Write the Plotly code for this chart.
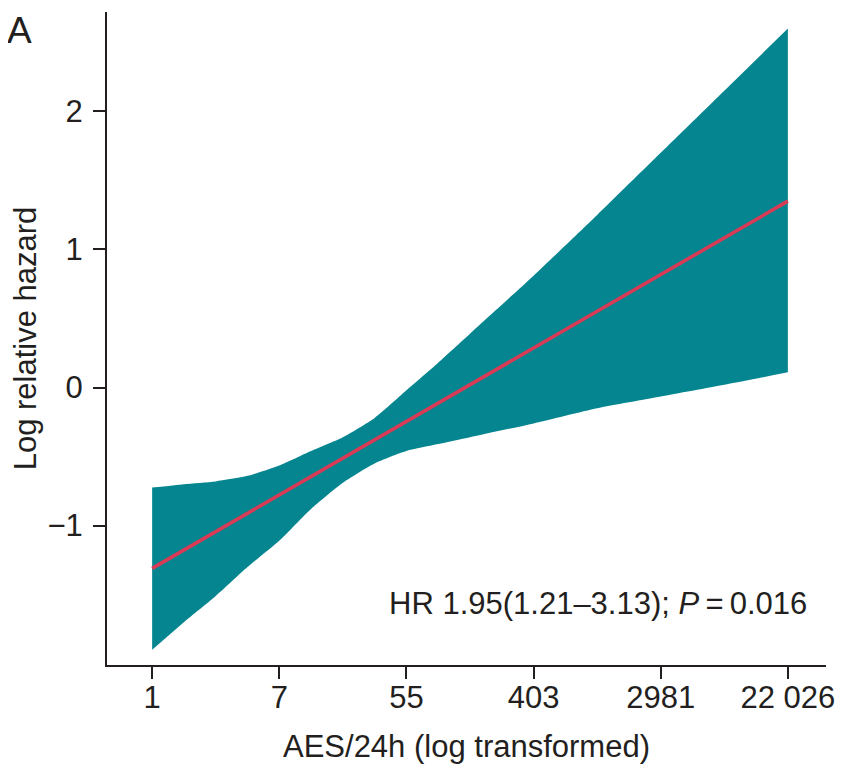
import plotly.graph_objects as go

# x = ln(AES/24h)
band_x = [0, 0.5, 1, 1.5, 2, 2.5, 3, 3.5, 4, 4.5, 5, 6, 7, 8, 9, 10]
band_upper = [-0.725, -0.70, -0.68, -0.64, -0.565, -0.46, -0.36, -0.22, -0.02, 0.18, 0.39, 0.81, 1.25, 1.70, 2.15, 2.60]
band_lower = [-1.90, -1.70, -1.51, -1.30, -1.11, -0.88, -0.69, -0.55, -0.46, -0.41, -0.36, -0.26, -0.15, -0.065, 0.02, 0.11]
fit_x = [0, 10]
fit_y = [-1.31, 1.35]

x_tickvals = [0, 2, 4, 6, 8, 10]
x_ticktext = ["1", "7", "55", "403", "2981", "22 026"]
y_tickvals = [-1, 0, 1, 2]

TEAL = "#04858F"
RED = "#D93A55"
AXIS = "#231F20"
FONT = "Liberation Sans, Arial, Helvetica, sans-serif"
FS = 31

fig = go.Figure()
fig.add_trace(go.Scatter(x=band_x, y=band_lower, mode="lines",
                         line=dict(color=TEAL, width=0, shape="spline", smoothing=0.6),
                         showlegend=False, hoverinfo="skip"))
fig.add_trace(go.Scatter(x=band_x, y=band_upper, mode="lines", fill="tonexty",
                         fillcolor=TEAL,
                         line=dict(color=TEAL, width=0, shape="spline", smoothing=0.6),
                         showlegend=False, hoverinfo="skip"))
fig.add_trace(go.Scatter(x=fit_x, y=fit_y, mode="lines",
                         line=dict(color=RED, width=3.5),
                         showlegend=False))

fig.add_annotation(x=10.34, y=-1.565, xref="x", yref="y", xanchor="right", yanchor="middle",
                   text="HR 1.95(1.21\u20133.13); <i>P</i>\u2009=\u20090.016",
                   showarrow=False, font=dict(size=FS, color=AXIS, family=FONT))
fig.add_annotation(x=-0.14, y=1.005, xref="paper", yref="paper", xanchor="left", yanchor="top",
                   borderpad=0,
                   text="A", showarrow=False, font=dict(size=37, color=AXIS, family=FONT))

# page body has an 8px margin: plot area at page x 107..826, y 12..665
fig.update_layout(
    width=835, height=756,
    margin=dict(l=99, r=17, t=4, b=99),
    paper_bgcolor="white", plot_bgcolor="white",
    font=dict(family=FONT, size=FS, color=AXIS),
    xaxis=dict(range=[-0.71, 10.6], tickvals=x_tickvals, ticktext=x_ticktext,
               automargin=False,
               showline=True, linecolor=AXIS, linewidth=2, ticks="outside",
               ticklen=12, tickwidth=2, tickcolor=AXIS, showgrid=False, zeroline=False,
               ticklabelstandoff=-8,
               title=dict(text="AES/24h (log transformed)", standoff=22,
                          font=dict(size=FS, family=FONT, color=AXIS))),
    yaxis=dict(range=[-2.01, 2.72], tickvals=y_tickvals,
               automargin=False,
               showline=True, linecolor=AXIS, linewidth=2, ticks="outside",
               ticklen=12, tickwidth=2, tickcolor=AXIS, showgrid=False, zeroline=False,
               ticklabelstandoff=4,
               title=dict(text="Log relative hazard", standoff=2,
                          font=dict(size=FS, family=FONT, color=AXIS))),
)

fig.write_html("out.html")
